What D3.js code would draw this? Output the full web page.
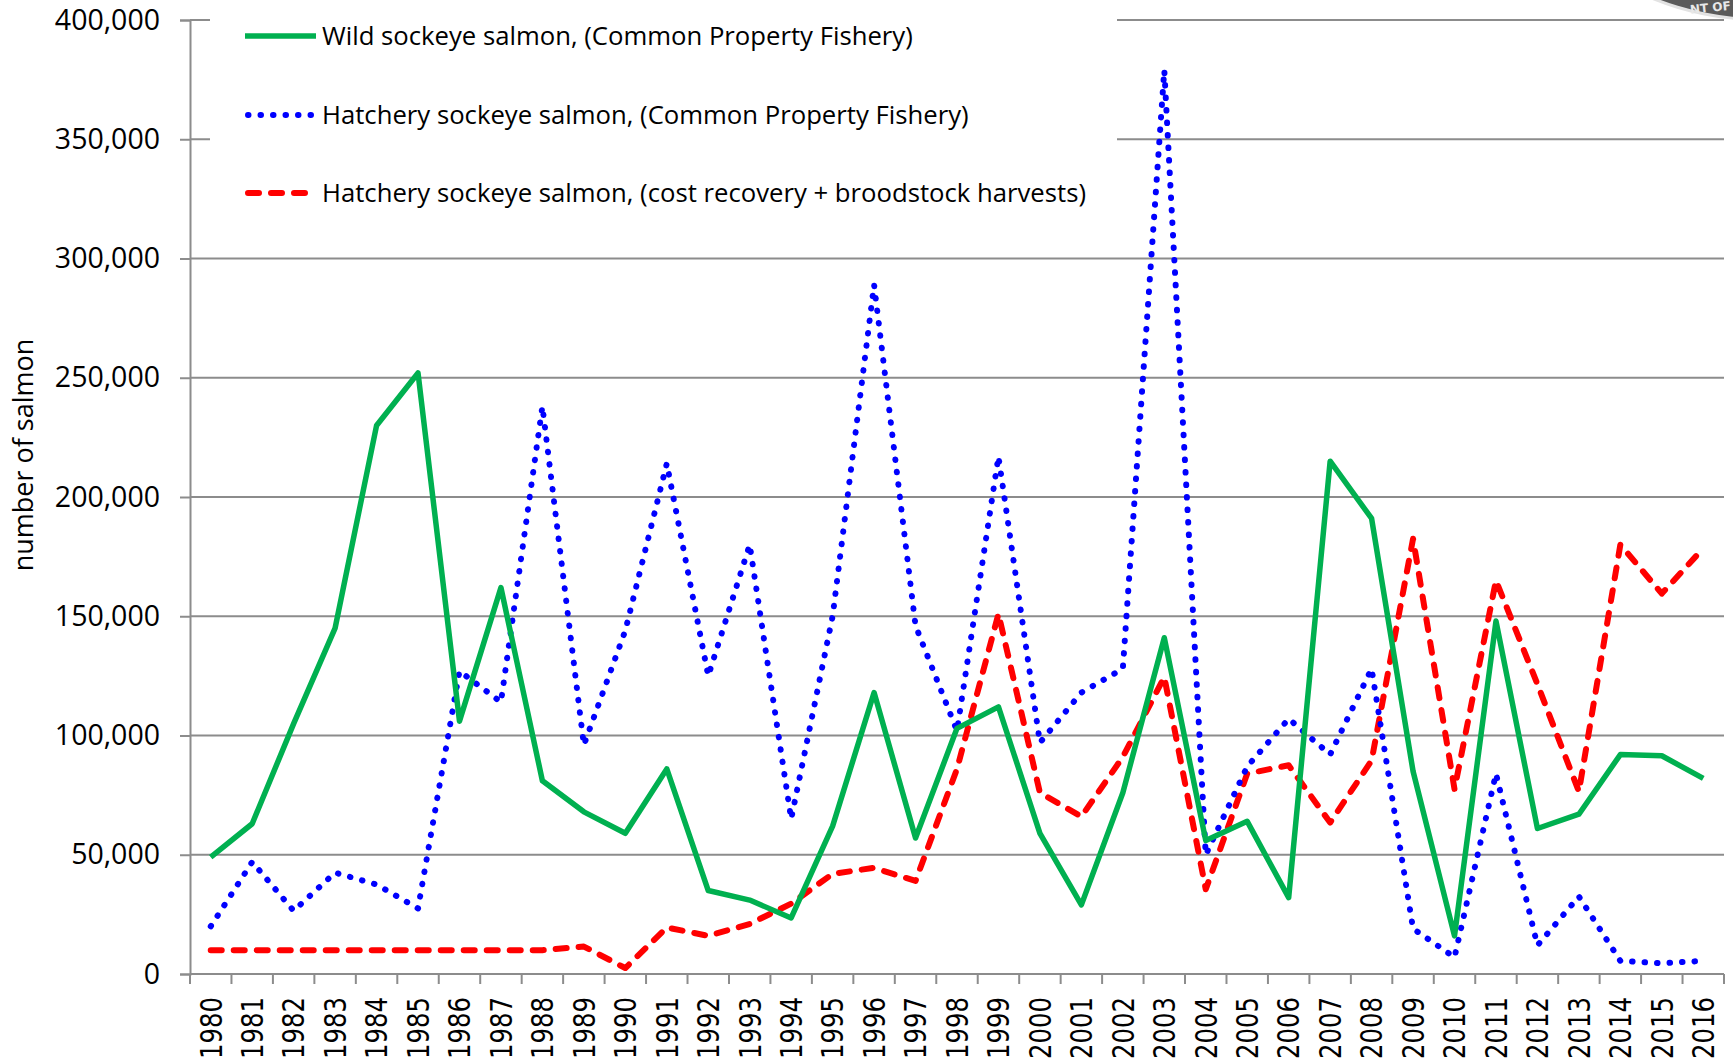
<!doctype html>
<html lang="en">

<head>
  <meta charset="utf-8">
  <script src="https://d3js.org/d3.v7.min.js"></script>
  <title>Sockeye salmon harvests</title>
  <style type="text/css">
    html,
    body {
      width: 100%;
      height: 100%;
      padding: 0;
      margin: 0;
      background: #fff;
      overflow: hidden;
    }

    svg {
      display: block;
    }
  </style>
</head>

<body>
<script>
  // years on the x axis
  var years = [1980, 1981, 1982, 1983, 1984, 1985, 1986, 1987, 1988, 1989, 1990, 1991, 1992, 1993, 1994, 1995, 1996, 1997, 1998,
    1999, 2000, 2001, 2002, 2003, 2004, 2005, 2006, 2007, 2008, 2009, 2010, 2011, 2012, 2013, 2014, 2015, 2016];

  // wild sockeye, common property fishery
  var wildCPF = [49000, 63000, 105000, 145000, 230000, 252000, 106000, 162000, 81000, 68000, 59000, 86000, 35000, 31000, 23500,
    62000, 118000, 57000, 103000, 112000, 59000, 29000, 76000, 141000, 56000, 64000, 32000, 215000, 191000, 85000, 16000,
    148000, 61000, 67000, 92000, 91500, 82000];

  // hatchery sockeye, common property fishery
  var hatcheryCPF = [20000, 47000, 26500, 42500, 37500, 27500, 127000, 114000, 238000, 96000, 144000, 214000, 125000, 180000, 65000,
    150000, 289000, 146000, 102000, 217000, 97000, 118000, 128000, 379000, 50000, 87000, 107000, 92000, 128000, 19000, 7000,
    84000, 12000, 32500, 5500, 4500, 5500];

  // hatchery sockeye, cost recovery + broodstock
  var hatcheryCR = [10000, 10000, 10000, 10000, 10000, 10000, 10000, 10000, 10000, 11500, 2500, 19500, 16000, 21000, 29500,
    42000, 44500, 39000, 86000, 151000, 76000, 66000, 91000, 124500, 35500, 84000, 87500, 63500, 89500, 182500, 77500,
    165000, 121500, 76500, 180000, 159500, 178500];

  var yTicks = [0, 50000, 100000, 150000, 200000, 250000, 300000, 350000, 400000];

  var legendLabels = [
    "Wild sockeye salmon, (Common Property Fishery)",
    "Hatchery sockeye salmon, (Common Property Fishery)",
    "Hatchery sockeye salmon, (cost recovery + broodstock harvests)"
  ];

  var W = 1733,
    H = 1061;
  var margin = { top: 20, right: 9, bottom: 87, left: 190 },
    width = W - margin.left - margin.right,
    height = H - margin.top - margin.bottom;

  var series = [
    { name: legendLabels[0], values: wildCPF, color: "#00B050", width: 5.5, dash: null, cap: "butt" },
    { name: legendLabels[1], values: hatcheryCPF, color: "#0000FF", width: 6, dash: "0.5,12", cap: "round" },
    { name: legendLabels[2], values: hatcheryCR, color: "#FF0000", width: 6, dash: "11,12", cap: "round" }
  ];

  var svg = d3.select("body").append("svg")
    .attr("width", W)
    .attr("height", H);

  var g = svg.append("g")
    .attr("transform", "translate(" + margin.left + "," + margin.top + ")");

  var x = d3.scaleBand()
    .domain(years)
    .range([0, width])
    .padding(0);

  var y = d3.scaleLinear()
    .domain([0, 400000])
    .range([height, 0]);

  var grey = "#8c8c8c";

  // horizontal gridlines
  g.append("g")
    .selectAll("line")
    .data(yTicks.filter(function(d) { return d > 0; }))
    .enter()
    .append("line")
    .attr("x1", 0)
    .attr("x2", width)
    .attr("y1", function(d) { return y(d); })
    .attr("y2", function(d) { return y(d); })
    .style("stroke", grey)
    .style("stroke-width", 2);

  // white legend box over the top-left gridlines
  g.append("rect")
    .attr("x", 20)
    .attr("y", -margin.top)
    .attr("width", 907)
    .attr("height", 230)
    .style("fill", "#fff");

  // seal fragment in the top right corner
  var seal = svg.append("g").attr("transform", "translate(1760,-265)");
  seal.append("circle").attr("r", 286).style("fill", "#e2e2e2");
  seal.append("circle").attr("r", 283).style("fill", "#5a5a5a");
  seal.append("circle").attr("r", 266).style("fill", "#b5b5b5");
  svg.append("text")
    .attr("x", 1690)
    .attr("y", 12)
    .attr("transform", "rotate(-6,1708,8)")
    .style("font-family", "'DejaVu Sans'")
    .style("font-weight", "bold")
    .style("font-size", "12px")
    .style("fill", "#e8e8e8")
    .text("NT OF");

  // lines
  var line = d3.line()
    .x(function(d, i) { return x(years[i]) + x.bandwidth() / 2; })
    .y(function(d) { return y(d); });

  // draw red first, then blue, green on top
  [series[2], series[1], series[0]].forEach(function(s) {
    g.append("path")
      .datum(s.values)
      .attr("d", line)
      .style("fill", "none")
      .style("stroke", s.color)
      .style("stroke-width", s.width)
      .style("stroke-linejoin", "round")
      .style("stroke-linecap", s.cap)
      .style("stroke-dasharray", s.dash);
  });

  // y axis
  var yAxis = g.append("g")
    .call(d3.axisLeft(y).tickValues(yTicks).tickSize(10).tickPadding(20).tickFormat(d3.format(",")));
  yAxis.select(".domain").style("stroke", grey).style("stroke-width", 2);
  yAxis.selectAll(".tick line").style("stroke", grey).style("stroke-width", 2);
  yAxis.selectAll("text")
    .style("font-family", "'Open Sans'")
    .style("font-size", "28.5px")
    .style("fill", "#000");

  // x axis line and boundary ticks
  g.append("line")
    .attr("x1", 0)
    .attr("x2", width)
    .attr("y1", height)
    .attr("y2", height)
    .style("stroke", grey)
    .style("stroke-width", 2);

  g.append("g")
    .selectAll("line")
    .data(d3.range(years.length + 1))
    .enter()
    .append("line")
    .attr("x1", function(i) { return x.range()[0] + i * x.step(); })
    .attr("x2", function(i) { return x.range()[0] + i * x.step(); })
    .attr("y1", height)
    .attr("y2", height + 10)
    .style("stroke", grey)
    .style("stroke-width", 2);

  // year labels, rotated
  g.append("g")
    .selectAll("text")
    .data(years)
    .enter()
    .append("text")
    .attr("transform", function(d) {
      return "translate(" + (x(d) + x.bandwidth() / 2) + "," + (height + 23) + ") rotate(-90)";
    })
    .attr("text-anchor", "end")
    .attr("dy", "0.36em")
    .attr("textLength", 62)
    .attr("lengthAdjust", "spacingAndGlyphs")
    .style("font-family", "'DejaVu Sans'")
    .style("font-size", "30px")
    .text(function(d) { return d; });

  // y axis title
  svg.append("text")
    .attr("transform", "translate(24," + (margin.top + 435) + ") rotate(-90)")
    .attr("text-anchor", "middle")
    .attr("dy", "0.35em")
    .style("font-family", "'Open Sans'")
    .style("font-size", "27px")
    .text("number of salmon");

  // legend
  var legendY = [36, 115, 193];
  var legend = svg.append("g")
    .selectAll("g")
    .data(series)
    .enter()
    .append("g")
    .attr("transform", function(d, i) { return "translate(245," + legendY[i] + ")"; });

  legend.append("line")
    .attr("x1", function(d) { return d.cap === "round" ? 3 : 0; })
    .attr("x2", function(d) { return d.cap === "round" ? 68 : 71; })
    .style("stroke", function(d) { return d.color; })
    .style("stroke-width", function(d) { return d.width; })
    .style("stroke-linecap", function(d) { return d.cap; })
    .style("stroke-dasharray", function(d) { return d.dash; });

  legend.append("text")
    .attr("x", 77)
    .attr("dy", "0.35em")
    .style("font-family", "'Open Sans'")
    .style("font-size", "25.7px")
    .text(function(d) { return d.name; });
</script>
</body>

</html>
